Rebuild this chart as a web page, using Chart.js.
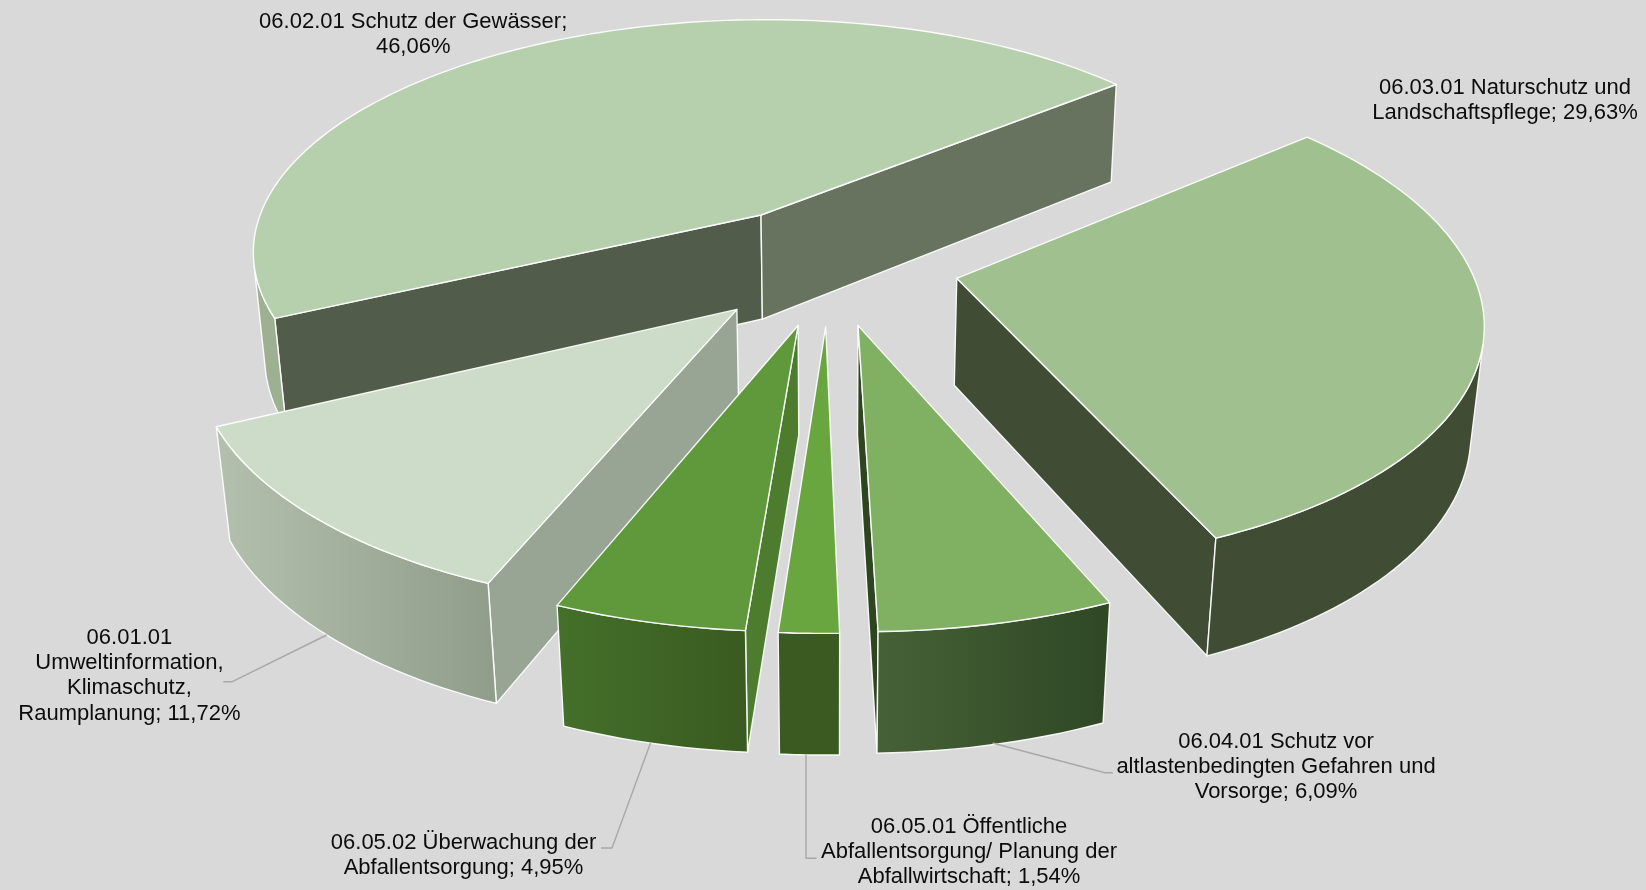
<!DOCTYPE html>
<html lang="de">
<head>
<meta charset="utf-8">
<title>Umweltschutz</title>
<script src="https://cdn.jsdelivr.net/npm/chart.js@4"></script>
<style>
  html, body { margin: 0; background: #d9d9d9; }
  canvas { display: block; }
</style>
</head>
<body>
<canvas id="pie" width="1646" height="890"></canvas>
<script>
// data, clockwise from the front left slice
const categories = [
  '06.01.01 Umweltinformation, Klimaschutz, Raumplanung',
  '06.02.01 Schutz der Gewässer',
  '06.03.01 Naturschutz und Landschaftspflege',
  '06.04.01 Schutz vor altlastenbedingten Gefahren und Vorsorge',
  '06.05.01 Öffentliche Abfallentsorgung/ Planung der Abfallwirtschaft',
  '06.05.02 Überwachung der Abfallentsorgung',
];
const shares = [11.72, 46.06, 29.63, 6.09, 1.54, 4.95];
const labelLines = [
  ['06.01.01', 'Umweltinformation,', 'Klimaschutz,', 'Raumplanung; 11,72%'],
  ['06.02.01 Schutz der Gewässer;', '46,06%'],
  ['06.03.01 Naturschutz und', 'Landschaftspflege; 29,63%'],
  ['06.04.01 Schutz vor', 'altlastenbedingten Gefahren und', 'Vorsorge; 6,09%'],
  ['06.05.01 Öffentliche', 'Abfallentsorgung/ Planung der', 'Abfallwirtschaft; 1,54%'],
  ['06.05.02 Überwachung der', 'Abfallentsorgung; 4,95%'],
];

// label layout: centre x and first baseline
const labelPos = [[129.4, 643.5], [413.2, 27.5], [1505, 93.8], [1276, 747.5], [969, 832.5], [463.5, 848.5]];
const leaders = [
  [[326.7, 635], [232.3, 681.7], [223.3, 681.7]],
  null,
  null,
  [[992.5, 743], [1105, 772.7], [1113, 772.7]],
  [[806, 754.5], [806, 858.3], [816.6, 858.3]],
  [[650.5, 743], [612, 848], [601, 848]],
];

// slice colours
const sliceStyles = [
  { top: '#cddcc8', startWall: '#98a594', endWall: '#98a594', outer: ['#b3c0ad', '#8f9d8a'] },
  { top: '#b6cfac', startWall: '#525c4b', endWall: '#67735f', outer: ['#9db192', '#9db192'] },
  { top: '#a0c18f', startWall: '#414c35', endWall: '#414c35', outer: ['#414c35', '#414c35'] },
  { top: '#80b062', startWall: '#2d4620', endWall: '#2d4620', outer: ['#466136', '#2f4725'] },
  { top: '#69a640', startWall: '#3a5a22', endWall: '#3a5a22', outer: ['#3a5a22', '#3a5a22'] },
  { top: '#60993c', startWall: '#4d7c2f', endWall: '#4d7c2f', outer: ['#44702a', '#395a20'] },
];

// camera: unit pie in the plane, z = 1 at the underside
const cam = [
  [530.0569, -47.59185, 16.87558, 829.0913],
  [-28.09595, 196.5365, 113.8010, 263.9766],
  [0.02495315, -0.1498829, 0.02027240, 1],
];
const explode = [0.25427, 0.25146, 0.25271, 0.25428, 0.25339, 0.25495];
const firstAngle = 120.607; // degrees clockwise from 3 o'clock

function project(x, y, z) {
  const w = cam[2][0] * x + cam[2][1] * y + cam[2][2] * z + cam[2][3];
  return [
    (cam[0][0] * x + cam[0][1] * y + cam[0][2] * z + cam[0][3]) / w,
    (cam[1][0] * x + cam[1][1] * y + cam[1][2] * z + cam[1][3]) / w,
  ];
}

function area(pts) {
  let s = 0;
  pts.forEach((p, i) => {
    const q = pts[(i + 1) % pts.length];
    s += p[0] * q[1] - q[0] * p[1];
  });
  return s / 2;
}

function fillFace(ctx, pts, fill) {
  ctx.beginPath();
  pts.forEach((p, i) => (i ? ctx.lineTo(p[0], p[1]) : ctx.moveTo(p[0], p[1])));
  ctx.closePath();
  ctx.fillStyle = fill;
  ctx.fill();
  ctx.stroke();
}

function drawSlice(ctx, arc, i) {
  const style = sliceStyles[i];
  const a = arc.startAngle, b = arc.endAngle, mid = (a + b) / 2;
  const ox = explode[i] * Math.cos(mid), oy = explode[i] * Math.sin(mid);
  const rim = z => {
    const n = Math.max(12, Math.round((b - a) * 40));
    const pts = [];
    for (let k = 0; k <= n; k++) {
      const t = a + (b - a) * k / n;
      pts.push(project(ox + Math.cos(t), oy + Math.sin(t), z));
    }
    return pts;
  };
  const top = rim(0), under = rim(1);
  const apexT = project(ox, oy, 0), apexB = project(ox, oy, 1);
  const last = top.length - 1;

  // radial walls, only when they face the camera
  const startWall = [apexT, top[0], under[0], apexB];
  const endWall = [apexT, top[last], under[last], apexB];
  if (area(startWall) < 0) fillFace(ctx, startWall, style.startWall);
  if (area(endWall) > 0) fillFace(ctx, endWall, style.endWall);

  // outer wall, visible facets only
  const runT = [], runB = [];
  for (let k = 0; k < last; k++) {
    if (area([top[k], top[k + 1], under[k + 1], under[k]]) < 0) {
      if (!runT.length) { runT.push(top[k]); runB.push(under[k]); }
      runT.push(top[k + 1]);
      runB.push(under[k + 1]);
    }
  }
  if (runT.length) {
    const xs = runT.concat(runB).map(p => p[0]);
    const g = ctx.createLinearGradient(Math.min(...xs), 0, Math.max(...xs), 0);
    g.addColorStop(0, style.outer[0]);
    g.addColorStop(1, style.outer[1]);
    fillFace(ctx, runT.concat(runB.slice().reverse()), g);
  }

  fillFace(ctx, [apexT, ...top], style.top);
}

const pie3d = {
  id: 'pie3d',
  beforeDatasetsDraw(chart) {
    const ctx = chart.ctx;
    const arcs = chart.getDatasetMeta(0).data;
    ctx.save();
    ctx.strokeStyle = 'rgba(255,255,255,0.92)';
    ctx.lineWidth = 1.4;
    ctx.lineJoin = 'round';
    [1, 2, 0, 5, 4, 3].forEach(i => drawSlice(ctx, arcs[i], i));

    ctx.strokeStyle = '#a8a8a8';
    ctx.lineWidth = 1.4;
    leaders.forEach(l => {
      if (!l) return;
      ctx.beginPath();
      l.forEach((p, k) => (k ? ctx.lineTo(p[0], p[1]) : ctx.moveTo(p[0], p[1])));
      ctx.stroke();
    });

    ctx.fillStyle = '#0c0c0c';
    ctx.font = '22px "Liberation Sans", Arial, sans-serif';
    ctx.textAlign = 'center';
    labelLines.forEach((lines, i) => {
      lines.forEach((text, k) => ctx.fillText(text, labelPos[i][0], labelPos[i][1] + k * 25.4));
    });
    ctx.restore();
    return false; // the flat arcs are replaced by the projected ones
  },
};

new Chart(document.getElementById('pie'), {
  type: 'pie',
  data: {
    labels: categories,
    datasets: [{ data: shares, borderWidth: 0 }],
  },
  options: {
    responsive: false,
    animation: false,
    rotation: firstAngle + 90,
    plugins: { legend: { display: false }, tooltip: { enabled: false } },
  },
  plugins: [pie3d],
});
</script>
</body>
</html>
